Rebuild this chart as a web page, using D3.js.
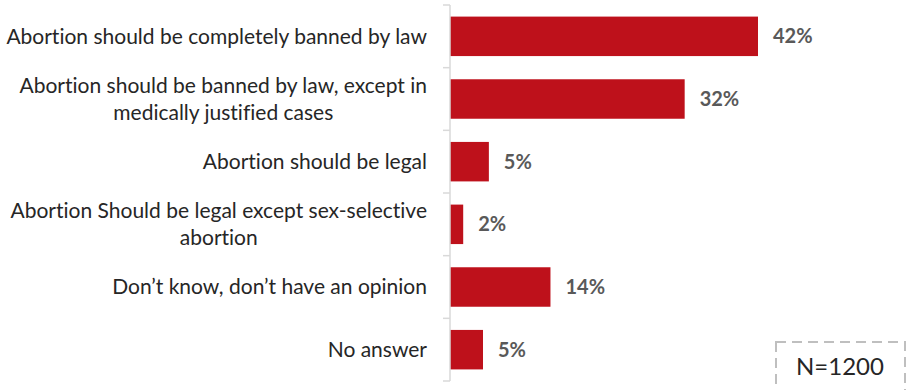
<!DOCTYPE html>
<html><head><meta charset="utf-8">
<script src="https://cdn.jsdelivr.net/npm/d3@7"></script>
<style>body{margin:0;background:#fff;} svg{display:block;} text{font-variant-ligatures:none;font-feature-settings:"liga" 0;}</style>
</head><body><svg id="c" width="906" height="390"></svg>
<script>
const categories = [
  ["Abortion should be completely banned by law"],
  ["Abortion should be banned by law, except in", "medically justified cases"],
  ["Abortion should be legal"],
  ["Abortion Should be legal except sex-selective", "abortion"],
  ["Don\u2019t know, don\u2019t have an opinion"],
  ["No answer"]
];
const values = [42, 32, 5.3, 1.8, 13.7, 4.5];
const valueLabels = ["42%", "32%", "5%", "2%", "14%", "5%"];
const note = "N=1200";

(function(){
const svg = d3.select("#c");
const x0 = 450, yTop = 5, yBot = 381;
const x = d3.scaleLinear().domain([0, 42]).range([x0, 758]);
const y = d3.scaleBand().domain(d3.range(categories.length)).range([yTop, yBot]).paddingInner(0.37).paddingOuter(0.185);
const font = "Lato, Open Sans, sans-serif";

svg.selectAll("rect.bar").data(values).join("rect").attr("class","bar")
  .attr("x", x0).attr("y", (d,i)=>y(i)).attr("width", d=>x(d)-x0).attr("height", y.bandwidth())
  .attr("fill", "#BE111B");

const ax = svg.append("g");
ax.append("line").attr("x1",x0).attr("x2",x0).attr("y1",yTop).attr("y2",yBot).attr("stroke","#d9d9d9").attr("stroke-width",1.5);
const step = y.step();
ax.selectAll("line.t").data(d3.range(categories.length+1)).join("line").attr("class","t")
  .attr("x1",x0-7).attr("x2",x0).attr("y1",d=>yTop+d*step).attr("y2",d=>yTop+d*step).attr("stroke","#d9d9d9").attr("stroke-width",1.5);

const lh = 27;
const g = svg.selectAll("text.cat").data(categories).join("text").attr("class","cat")
  .attr("font-family", font).attr("font-size", 21).attr("fill","#262626").attr("text-anchor","middle");
g.each(function(lines,i){
  const cy = y(i)+y.bandwidth()/2;
  const t = d3.select(this);
  const n = lines.length;
  lines.forEach((l,k)=>{
    t.append("tspan").attr("y", cy + (k-(n-1)/2)*lh).attr("dy","0.35em").text(l);
  });
});
g.each(function(lines,i){
  const t = d3.select(this);
  const spans = t.selectAll("tspan").nodes();
  const w = d3.max(spans, s=>s.getComputedTextLength());
  spans.forEach(s=>d3.select(s).attr("x", 427 - w/2));
});

svg.selectAll("text.val").data(values).join("text").attr("class","val")
  .attr("x", d=>x(d)+15).attr("y",(d,i)=>y(i)+y.bandwidth()/2).attr("dy","0.35em")
  .attr("font-family", font).attr("font-weight","bold").attr("font-size",20).attr("fill","#595959")
  .text((d,i)=>valueLabels[i]);

svg.append("rect").attr("x",776).attr("y",342).attr("width",129).attr("height",60)
  .attr("fill","none").attr("stroke","#bfbfbf").attr("stroke-width",2).attr("stroke-dasharray","10,6");
svg.append("text").attr("x",840).attr("y",367).attr("dy","0.35em").attr("text-anchor","middle")
  .attr("font-family",font).attr("font-size",24).attr("fill","#262626").text(note);
})();
</script></body></html>
